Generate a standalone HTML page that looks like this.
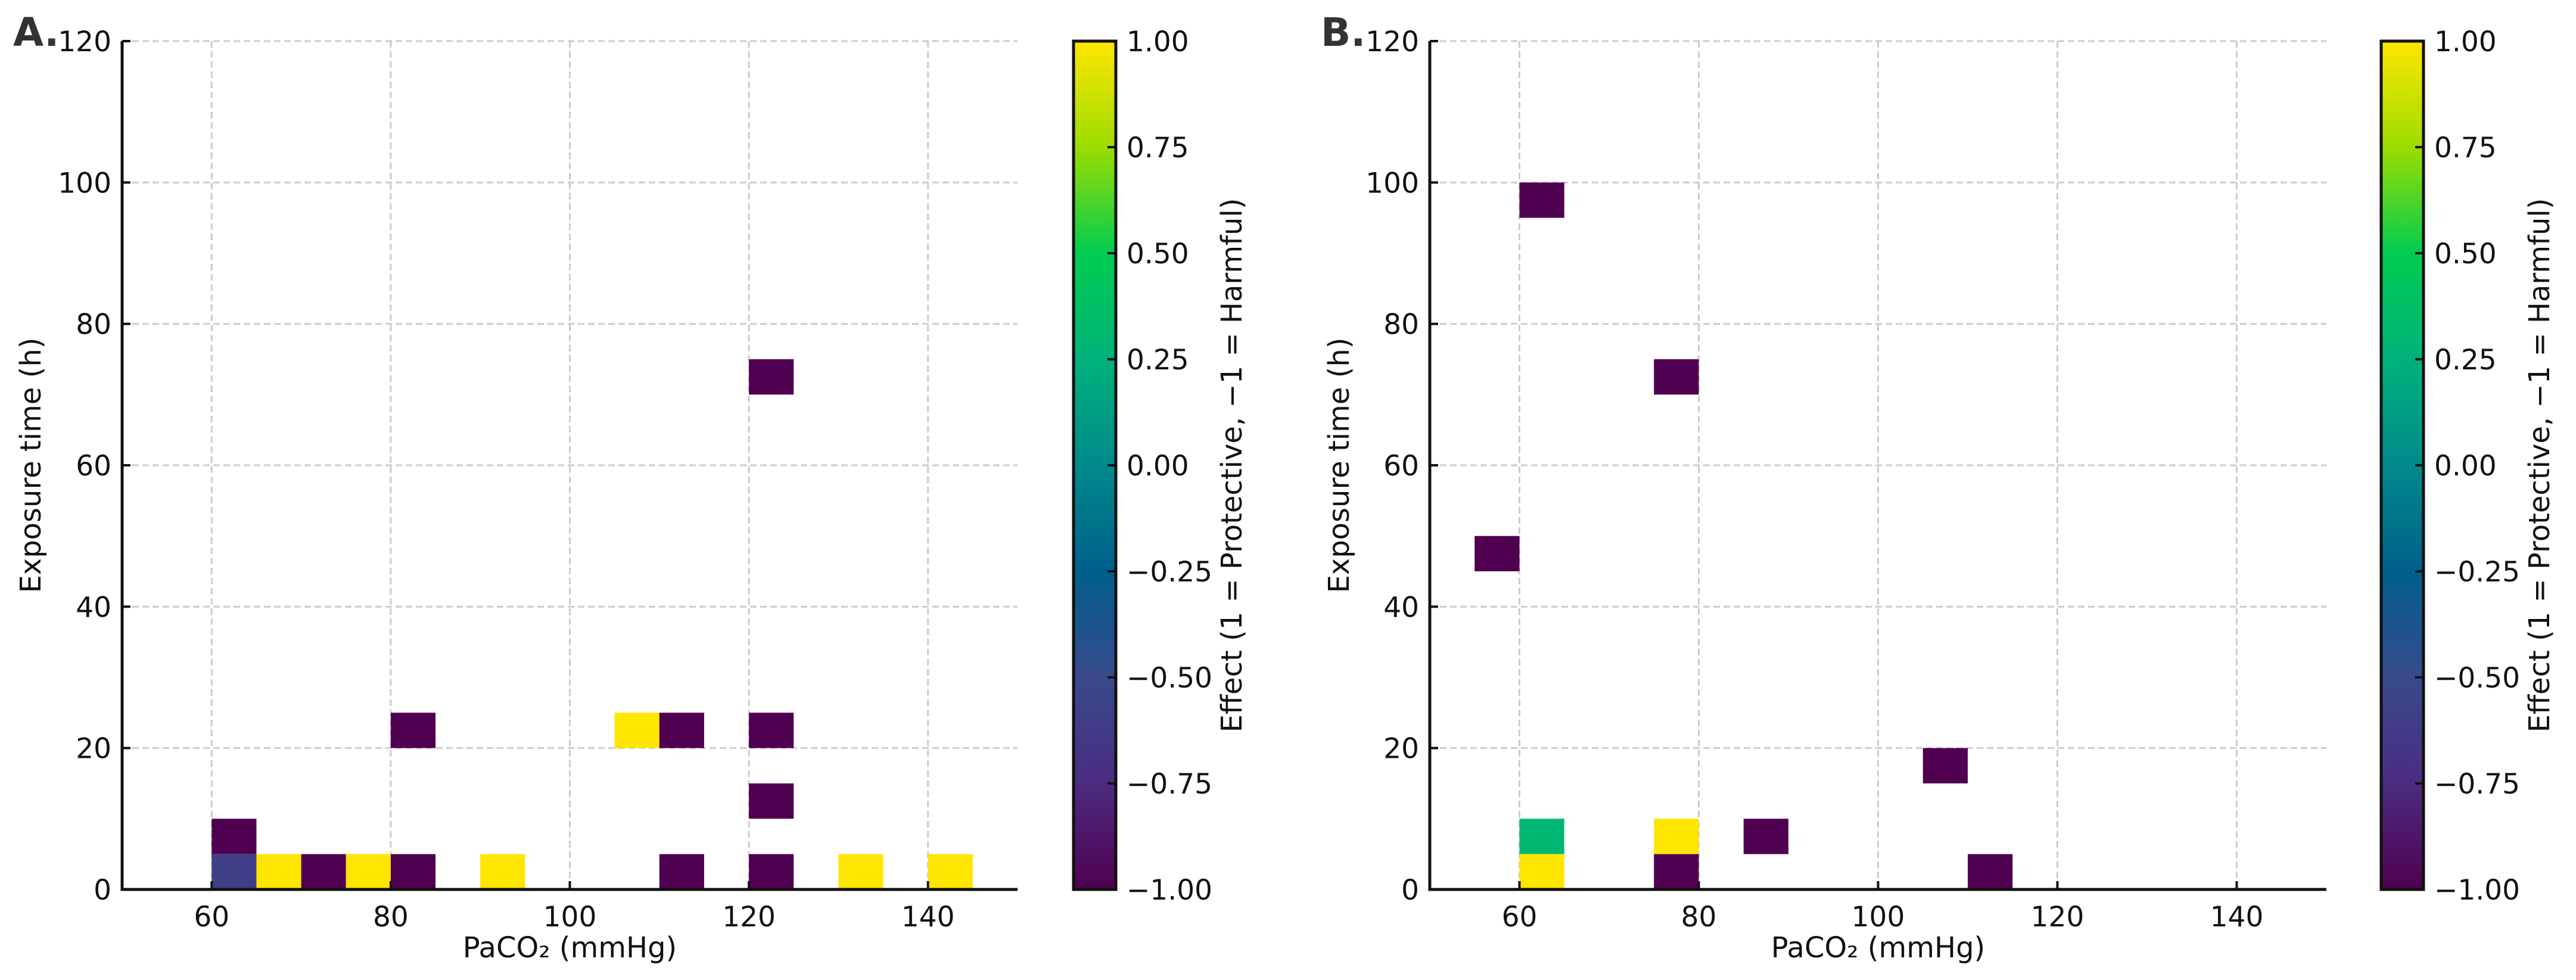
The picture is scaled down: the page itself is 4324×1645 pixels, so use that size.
<!DOCTYPE html>
<html><head><meta charset="utf-8"><style>
html,body{margin:0;padding:0;background:#fff;}
svg text{font-family:"DejaVu Sans","Liberation Sans",sans-serif;fill:#111;}
</style></head><body>
<svg id="fig" width="4324" height="1640" viewBox="0 0 4324 1640" xmlns="http://www.w3.org/2000/svg">
<defs>
<linearGradient id="cmap" x1="0" y1="1" x2="0" y2="0">
<stop offset="0" stop-color="#500050"/>
<stop offset="0.125" stop-color="#4b2c80"/>
<stop offset="0.25" stop-color="#384a8c"/>
<stop offset="0.375" stop-color="#005f8c"/>
<stop offset="0.5" stop-color="#008a8a"/>
<stop offset="0.625" stop-color="#00b27a"/>
<stop offset="0.75" stop-color="#00cc50"/>
<stop offset="0.875" stop-color="#9cdc00"/>
<stop offset="1" stop-color="#ffe600"/>
</linearGradient>
</defs>
</svg>
<script>
// Panel A data
const aX = [60,60,65,70,75,80,80,90,105,110,110,120,120,120,120,130,140];
const aY = [5,0,0,0,0,0,20,0,20,20,0,70,20,10,0,0,0];
const aV = [-1,-0.6,1,-1,1,-1,-1,1,1,-1,-1,-1,-1,-1,-1,1,1];
// Panel B data
const bX = [60,55,75,60,60,75,75,85,105,110];
const bY = [95,45,70,5,0,5,0,5,15,0];
const bV = [-1,-1,-1,0.3,1,1,-1,-1,-1,-1];
const xTicks = [60,80,100,120,140];
const yTicks = [0,20,40,60,80,100,120];
const cTicks = [-1,-0.75,-0.5,-0.25,0,0.25,0.5,0.75,1];

const NS="http://www.w3.org/2000/svg";
const svg=document.getElementById('fig');
function mk(tag,attrs,parent){const e=document.createElementNS(NS,tag);for(const k in attrs)e.setAttribute(k,attrs[k]);(parent||svg).appendChild(e);return e;}
const stops=[[0,[0x50,0,0x50]],[0.125,[0x4b,0x2c,0x80]],[0.25,[0x38,0x4a,0x8c]],[0.375,[0,0x5f,0x8c]],[0.5,[0,0x8a,0x8a]],[0.625,[0,0xb2,0x7a]],[0.75,[0,0xcc,0x50]],[0.875,[0x9c,0xdc,0]],[1,[0xff,0xe6,0]]];
function color(v){const t=(v+1)/2;for(let i=1;i<stops.length;i++){if(t<=stops[i][0]){const a=stops[i-1],b=stops[i];const f=(t-a[0])/(b[0]-a[0]);const c=a[1].map((x,j)=>Math.round(x+(b[1][j]-x)*f));return `rgb(${c.join(',')})`;}}return '#ffe600';}

function panel(id,L,R,cbL,cbLabelX,ylabX,letter,xs,ys,vs){
  const T=69,B=1493;
  const sx=v=>L+(v-50)/100*(R-L);
  const sy=v=>B-v/120*(B-T);
  const g=mk('g',{});
  
  
  xTicks.forEach(t=>{const l=mk('line',{x1:sx(t),x2:sx(t),y1:T,y2:B,stroke:'#cccccc','stroke-width':3,'stroke-dasharray':'11,6'},g);
    
    });
  yTicks.forEach(t=>{const l=mk('line',{x1:L,x2:R,y1:sy(t),y2:sy(t),stroke:'#cccccc','stroke-width':3,'stroke-dasharray':'11,6'},g);
    
    });
  for(let i=0;i<xs.length;i++){
    const r=mk('rect',{x:sx(xs[i]),y:sy(ys[i]+5),width:sx(xs[i]+5)-sx(xs[i]),height:sy(ys[i])-sy(ys[i]+5),fill:color(vs[i])},g);
    
    
  }
  const ax=mk('path',{d:`M${L},${T} L${L},${B} L${R},${B}`,fill:'none',stroke:'#111','stroke-width':5},g);
  
  
  xTicks.forEach(t=>{mk('line',{x1:sx(t),x2:sx(t),y1:B,y2:B-14,stroke:'#111','stroke-width':4},g);
    const tx=mk('text',{x:sx(t),y:B+62,'font-size':47,'text-anchor':'middle'},g);tx.textContent=t;
    
    });
  yTicks.forEach(t=>{mk('line',{x1:L,x2:L+14,y1:sy(t),y2:sy(t),stroke:'#111','stroke-width':4},g);
    const tx=mk('text',{x:L-18,y:sy(t)+17,'font-size':47,'text-anchor':'end'},g);tx.textContent=t;
    
    });
  const xl=mk('text',{x:(L+R)/2,y:1607,'font-size':48,'text-anchor':'middle'},g);xl.textContent='PaCO₂ (mmHg)';
  
  
  const yl=mk('text',{x:0,y:0,'font-size':48,'text-anchor':'middle',transform:`translate(${ylabX},${(T+B)/2}) rotate(-90)`},g);yl.textContent='Exposure time (h)';
  
  
  const lt=mk('text',{x:L-183,y:77,'font-size':66,'font-weight':'bold',style:'fill:#333'},g);lt.textContent=letter;
  
  
  const cw=71;
  const cb=mk('rect',{x:cbL,y:T,width:cw,height:B-T,fill:'url(#cmap)',stroke:'#111','stroke-width':5},g);
  
  
  const cy=v=>B-(v+1)/2*(B-T);
  cTicks.forEach(t=>{mk('line',{x1:cbL+cw,x2:cbL+cw-14,y1:cy(t),y2:cy(t),stroke:'#111','stroke-width':4},g);
    const tx=mk('text',{x:cbL+cw+18,y:cy(t)+17,'font-size':47},g);
    tx.textContent=(t<0?'\u2212':'')+Math.abs(t).toFixed(2);
    
    });
  const cl=mk('text',{x:0,y:0,'font-size':48,'text-anchor':'middle',transform:`translate(${cbLabelX},${(T+B)/2}) rotate(-90)`},g);
  cl.textContent='Effect (1 = Protective, \u22121 = Harmful)';
  
  
}
panel('a',205,1708,1802,2084,68,'A.',aX,aY,aV);
panel('b',2400,3905,3997,4279,2264,'B.',bX,bY,bV);
</script>
</body></html>
